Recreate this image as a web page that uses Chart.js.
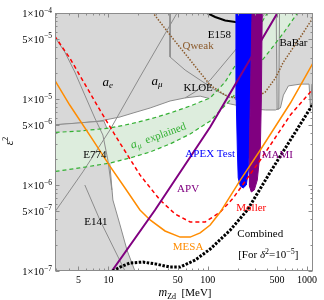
<!DOCTYPE html>
<html><head><meta charset="utf-8">
<script src="https://cdn.jsdelivr.net/npm/chart.js@4/dist/chart.umd.min.js"></script>
<style>html,body{margin:0;padding:0;background:#fff}canvas{display:block}</style>
</head><body>
<canvas id="c" width="324" height="300"></canvas>
<script>
// ===== data: [mass (MeV), epsilon^2] =====
const massTicks = [5, 10, 50, 100, 500, 1000];
const massTickLabels = ['5', '10', '50', '100', '500', '1000'];
const epsTicks = [1e-7, 5e-7, 1e-6, 5e-6, 1e-5, 5e-5, 1e-4];
const epsTickMantissa = ['1', '5', '1', '5', '1', '5', '1'];
const epsTickExponent = ['\u22127', '\u22127', '\u22126', '\u22126', '\u22125', '\u22125', '\u22124'];

const upperExcluded = [[2.5,1.3e-4],[1300,1.3e-4],[1300,1.49e-5],[1120,1.49e-5],[1085,7.6e-6],[1050,1.49e-5],[860,1.49e-5],[650,1.42e-5],[579,1.11e-5],[540,7.86e-6],[481,7.45e-6],[381,7.45e-6],[302,7.65e-6],[239,8.07e-6],[169,8.75e-6],[119,9.74e-6],[84,1.08e-5],[59.3,1.03e-5],[41.8,9.48e-6],[26.3,7.86e-6],[17.7,6.87e-6],[13.1,6.18e-6],[8.21,5.55e-6],[5.15,5.26e-6],[2.5,4.95e-6]];
const lowerLeftExcluded = [[2.5,4.95e-6],[9.01,5.55e-6],[9.65,4.60e-6],[10.1,2.92e-6],[10.36,1.71e-6],[11.1,6.69e-7],[13.1,3.43e-7],[15.4,1.75e-7],[18.5,1e-7],[19.5,8e-8],[2.5,8e-8]];
const aeLine = [[2.57,4.0e-7],[5.53,1.42e-6],[10.36,4.36e-6],[20.8,1.80e-5],[49.2,1e-4],[56.4,1.31e-4]];
const e774Line = [[2.57,6.4e-5],[3.64,3.52e-5],[4.59,2.06e-5],[5.79,1.11e-5],[7.30,6.01e-6],[8.80,3.81e-6],[9.88,1.95e-6],[10.85,8.75e-7]];
const e141Line = [[5.79,1e-6],[8.21,3.92e-7],[14.7,1e-7],[16,8e-8]];
const kloeLine = [[41.8,1.3e-4],[41.8,3.08e-5],[59.3,2.17e-5],[84,1.66e-5],[119,1.27e-5],[169,1.03e-5]];
const amuLine = [[59.3,1.03e-5],[74.8,1.21e-5],[106,1.66e-5],[190,3.71e-5],[339,8.29e-5],[420,1.2e-4]];
const babarLine = [[489,1.3e-4],[500,7.6e-6],[520,7.6e-6],[530,1.3e-4]];
const amuBandUpper = [[2.5,4.05e-6],[5.15,4.24e-6],[10.36,4.60e-6],[16.5,5.12e-6],[26.3,5.85e-6],[41.8,6.87e-6],[66.6,8.29e-6],[106,1.03e-5],[150,1.58e-5],[199,2.69e-5],[269,4.60e-5],[399,1e-4],[445,1.24e-4]];
const amuBandLower = [[2.5,1.40e-6],[5.15,1.58e-6],[10.36,1.80e-6],[16.5,2.06e-6],[26.3,2.42e-6],[41.8,3.00e-6],[66.6,3.92e-6],[106,5.55e-6],[169,9.74e-6],[269,1.90e-5],[428,3.71e-5],[579,5.85e-5],[802,1e-4],[880,1.21e-4]];
const apexRegion = [[194,1.3e-4],[194,9.74e-6],[199,2.55e-6],[203,1.21e-6],[213,9.74e-7],[228,9.23e-7],[245,1e-6],[257,1.49e-6],[263,2.55e-6],[269,9.74e-6],[281,1.3e-4]];
const mamiRegion = [[281,1.3e-4],[355,1.3e-4],[347,9.74e-6],[339,2.55e-6],[316,1.14e-6],[295,8.75e-7],[275,8.29e-7],[263,9.74e-7],[263,2.55e-6],[269,9.74e-6],[281,1.3e-4]];
const e158Curve = [[95,1.15e-4],[98.8,1e-4],[119,8.98e-5],[150,8.18e-5],[190,7.86e-5],[239,7.75e-5],[288,8.29e-5],[339,1e-4],[350,1.1e-4]];
const qweakCurve = [[27,1.1e-4],[28.2,1e-4],[41.8,5.55e-5],[66.6,2.84e-5],[106,1.45e-5],[150,1.11e-5],[228,9.74e-6],[302,1.03e-5],[381,1.21e-5],[481,1.75e-5],[579,2.69e-5],[860,5.26e-5],[1163,8.98e-5]];
const mollerCurve = [[2.57,6.5e-5],[2.88,5.40e-5],[4.08,3.00e-5],[8.21,7.45e-6],[12.5,3.34e-6],[20.8,1.31e-6],[33.1,6.69e-7],[47.0,4.60e-7],[66.6,3.71e-7],[94.3,3.71e-7],[134,4.85e-7],[181,7.06e-7],[339,1.95e-6],[681,6.52e-6],[1085,1.21e-5],[1163,1.35e-5]];
const mesaCurve = [[2.57,2.06e-5],[2.88,1.66e-5],[4.08,8.51e-6],[6.97,3.34e-6],[10.36,1.66e-6],[14.7,9.23e-7],[20.8,5.12e-7],[26.3,3.92e-7],[37.2,2.92e-7],[52.8,2.48e-7],[66.6,2.48e-7],[84,2.77e-7],[106,3.43e-7],[134,4.85e-7],[213,1.14e-6],[339,2.55e-6],[681,8.98e-6],[1012,2.01e-5],[1163,2.69e-5]];
const combinedCurve = [[10.36,9.2e-8],[11.1,1e-7],[13.1,1.11e-7],[16.5,1.24e-7],[22.3,1.27e-7],[29.5,1.21e-7],[41.8,1.11e-7],[52.8,1.11e-7],[74.8,1.34e-7],[106,1.80e-7],[169,3.0e-7],[251,5.12e-7],[428,1.42e-6],[681,3.34e-6],[1085,7.86e-6],[1163,8.98e-6]];
const apvLine = [[10.36,9.2e-8],[10.85,1e-7],[29.5,5.12e-7],[106,4.72e-6],[504,1e-4],[540,1.14e-4]];

// ===== styling / helpers =====
const SERIF = "'Liberation Serif','DejaVu Serif',serif";
const GRAYFILL = '#d8d8d8', GRAYLINE = '#8c8c8c', GREEN = '#33b033', PURPLE = '#800080';
const toXY = a => a.map(p => ({x: p[0], y: p[1]}));
function lineDs(label, arr, color, width, dash, order) {
  return {label, data: toXY(arr), borderColor: color, borderWidth: width, borderDash: dash || [],
    fill: false, pointRadius: 0, pointHoverRadius: 0, tension: 0, clip: 0, order};
}
function areaDs(label, arr, fillColor, borderColor, width, order) {
  return {label, data: toXY(arr), backgroundColor: fillColor, borderColor: borderColor || 'rgba(0,0,0,0)',
    borderWidth: width || 1, fill: 'shape', pointRadius: 0, pointHoverRadius: 0, tension: 0, clip: 0, order};
}
const amuBand = amuBandUpper.concat(amuBandLower.slice().reverse());

const datasets = [
  lineDs('Combined', combinedCurve, '#000', 3, [2.5, 1.5], 1),
  lineDs('APV', apvLine, PURPLE, 2, [], 2),
  lineDs('MESA', mesaCurve, '#ff8c00', 1.5, [], 3),
  lineDs('Moller', mollerCurve, '#ff0000', 1.5, [4, 3], 4),
  areaDs('MAMI', mamiRegion, PURPLE, PURPLE, 1, 5),
  areaDs('APEX Test', apexRegion, '#0000ff', '#0000ff', 1, 6),
  lineDs('E158', e158Curve, '#000', 2, [], 7),
  lineDs('Qweak', qweakCurve, '#8b5a2b', 1.5, [1.5, 1.5], 8),
  lineDs('a_mu band upper', amuBandUpper, GREEN, 1.2, [4, 3], 9),
  lineDs('a_mu band lower', amuBandLower, GREEN, 1.2, [4, 3], 10),
  lineDs('a_e', aeLine, GRAYLINE, 1, [], 11),
  lineDs('E774', e774Line, GRAYLINE, 1, [], 12),
  lineDs('E141', e141Line, GRAYLINE, 1, [], 13),
  lineDs('KLOE', kloeLine, GRAYLINE, 1, [], 14),
  lineDs('a_mu', amuLine, GRAYLINE, 1, [], 15),
  lineDs('BaBar', babarLine, GRAYLINE, 1, [], 16),
  areaDs('a_mu explained', amuBand, 'rgb(221,237,221)', 'rgba(0,0,0,0)', 1, 17),
  areaDs('beam dump', lowerLeftExcluded, GRAYFILL, GRAYLINE, 1, 18),
  areaDs('excluded', upperExcluded, GRAYFILL, GRAYLINE, 1, 19)
];

// ===== text labels (anchored in data coordinates) =====
const P = (t, s, it, dy) => ({t, s, it: !!it, dy: dy || 0});
const regionLabels = [
  {parts: [P('a', 13, true), P('e', 9, true, 2.5)], at: [9.88, 1.58e-5], color: '#000'},
  {parts: [P('a', 13, true), P('\u03bc', 9, true, 2.5)], at: [30.9, 1.62e-5], color: '#000'},
  {parts: [P('KLOE', 11)], at: [80.2, 1.38e-5], color: '#000'},
  {parts: [P('Qweak', 11)], at: [80, 4.25e-5], color: '#8b5a2b'},
  {parts: [P('E158', 11)], at: [131, 5.70e-5], color: '#000'},
  {parts: [P('BaBar', 11)], at: [731, 4.60e-5], color: '#000'},
  {parts: [P('E774', 11)], at: [7.30, 2.29e-6], color: '#000'},
  {parts: [P('E141', 11)], at: [7.48, 3.81e-7], color: '#000'},
  {parts: [P('a', 12, true), P('\u03bc', 8, true, 2.5), P('  explained', 11)], at: [31.6, 3.81e-6], color: GREEN, rot: -20},
  {parts: [P('APEX Test', 11)], at: [106, 2.36e-6], color: '#0000ff'},
  {parts: [P('MAMI', 11)], at: [504, 2.29e-6], color: PURPLE},
  {parts: [P('APV', 11)], at: [63.5, 9.23e-7], color: PURPLE},
  {parts: [P('Moller', 11)], at: [275, 5.55e-7], color: '#ff0000'},
  {parts: [P('MESA', 11)], at: [63.5, 1.95e-7], color: '#ff8c00'},
  {parts: [P('Combined', 11)], at: [199, 2.77e-7], color: '#000', align: 'left'},
  {parts: [P('[For ', 11), P('\u03b4', 11, true), P('2', 8, false, -4), P('=10', 11), P('\u22125', 8, false, -4), P(']', 11)], at: [203, 1.58e-7], color: '#000', align: 'left'}
];

function fontOf(p) { return (p.it ? 'italic ' : '') + p.s + 'px ' + SERIF; }
function drawRich(ctx, x, yMid, parts, align, color) {
  let w = 0;
  parts.forEach(p => { ctx.font = fontOf(p); p.w = ctx.measureText(p.t).width; w += p.w; });
  let cx = align === 'left' ? x : align === 'right' ? x - w : x - w / 2;
  ctx.fillStyle = color; ctx.textAlign = 'left'; ctx.textBaseline = 'alphabetic';
  parts.forEach(p => { ctx.font = fontOf(p); ctx.fillText(p.t, cx, yMid + 4 + p.dy); cx += p.w; });
}

const decor = {
  id: 'decor',
  afterDatasetsDraw(chart) {
    const {ctx, chartArea: a, scales} = chart;
    const xs = scales.x, ys = scales.y;
    ctx.save();
    const L = Math.round(a.left) + 0.5, R = Math.round(a.right) - 0.5, T = Math.round(a.top) + 0.5, B = Math.round(a.bottom) - 0.5;
    ctx.strokeStyle = '#8c8c8c'; ctx.lineWidth = 1; ctx.setLineDash([]);
    ctx.strokeRect(L, T, R - L, B - T);
    // ticks (inward, all four sides)
    ctx.beginPath();
    for (let d = 1; d <= 1000; d *= 10) for (let k = 1; k <= 9; k++) {
      const v = d * k; if (v < xs.min || v > xs.max) continue;
      const px = Math.round(xs.getPixelForValue(v)) + 0.5;
      const len = massTicks.includes(v) ? 4 : 2;
      ctx.moveTo(px, B); ctx.lineTo(px, B - len); ctx.moveTo(px, T); ctx.lineTo(px, T + len);
    }
    for (let d = 1e-7; d < 1.5e-4; d *= 10) for (let k = 1; k <= 9; k++) {
      const v = d * k; if (v < ys.min * 0.999 || v > ys.max * 1.001) continue;
      const py = Math.round(ys.getPixelForValue(v)) + 0.5;
      const len = (k === 1 || k === 5) ? 4 : 2;
      ctx.moveTo(L, py); ctx.lineTo(L + len, py); ctx.moveTo(R, py); ctx.lineTo(R - len, py);
    }
    ctx.stroke();
    // y tick labels
    epsTicks.forEach((v, i) => {
      const py = ys.getPixelForValue(v);
      drawRich(ctx, 52, py, [P(epsTickMantissa[i] + '\u00d710', 10.5), P(epsTickExponent[i], 7.5, false, -4.5)], 'right', '#000');
    });
    // axis titles
    drawRich(ctx, 185, 292, [P('m', 12, true), P('Zd', 8, false, 2.5), P('  [MeV]', 11)], 'center', '#000');
    ctx.save(); ctx.translate(9, 141); ctx.rotate(-Math.PI / 2);
    drawRich(ctx, 0, 0, [P('\u03b5', 12, true), P('2', 8, false, -5)], 'center', '#000');
    ctx.restore();
    // region labels
    regionLabels.forEach(lb => {
      const px = xs.getPixelForValue(lb.at[0]), py = ys.getPixelForValue(lb.at[1]);
      if (lb.rot) {
        ctx.save(); ctx.translate(px, py); ctx.rotate(lb.rot * Math.PI / 180);
        drawRich(ctx, 0, 0, lb.parts, 'center', lb.color); ctx.restore();
      } else drawRich(ctx, px, py, lb.parts, lb.align || 'center', lb.color);
    });
    ctx.restore();
  }
};

new Chart(document.getElementById('c'), {
  type: 'line',
  data: {datasets},
  options: {
    responsive: false, devicePixelRatio: 1, animation: false,
    layout: {padding: {left: 0, top: 13, right: 11, bottom: 0}},
    plugins: {legend: {display: false}, tooltip: {enabled: false}},
    elements: {line: {capBezierPoints: false}},
    scales: {
      x: {
        type: 'logarithmic', min: 2.9, max: 1150, position: 'bottom',
        grid: {display: false, drawTicks: false}, border: {display: false},
        afterBuildTicks: s => { s.ticks = massTicks.map(v => ({value: v})); },
        afterFit: s => { s.height = 29; },
        ticks: {autoSkip: false, maxRotation: 0, padding: 3, color: '#000',
          font: {family: SERIF, size: 10}, callback: (v, i) => massTickLabels[i]}
      },
      y: {
        type: 'logarithmic', min: 1e-7, max: 1e-4, position: 'left',
        grid: {display: false, drawTicks: false}, border: {display: false},
        afterBuildTicks: s => { s.ticks = epsTicks.map(v => ({value: v})); },
        afterFit: s => { s.width = 55; },
        ticks: {display: false}
      }
    }
  },
  plugins: [decor]
});
</script>
</body></html>
